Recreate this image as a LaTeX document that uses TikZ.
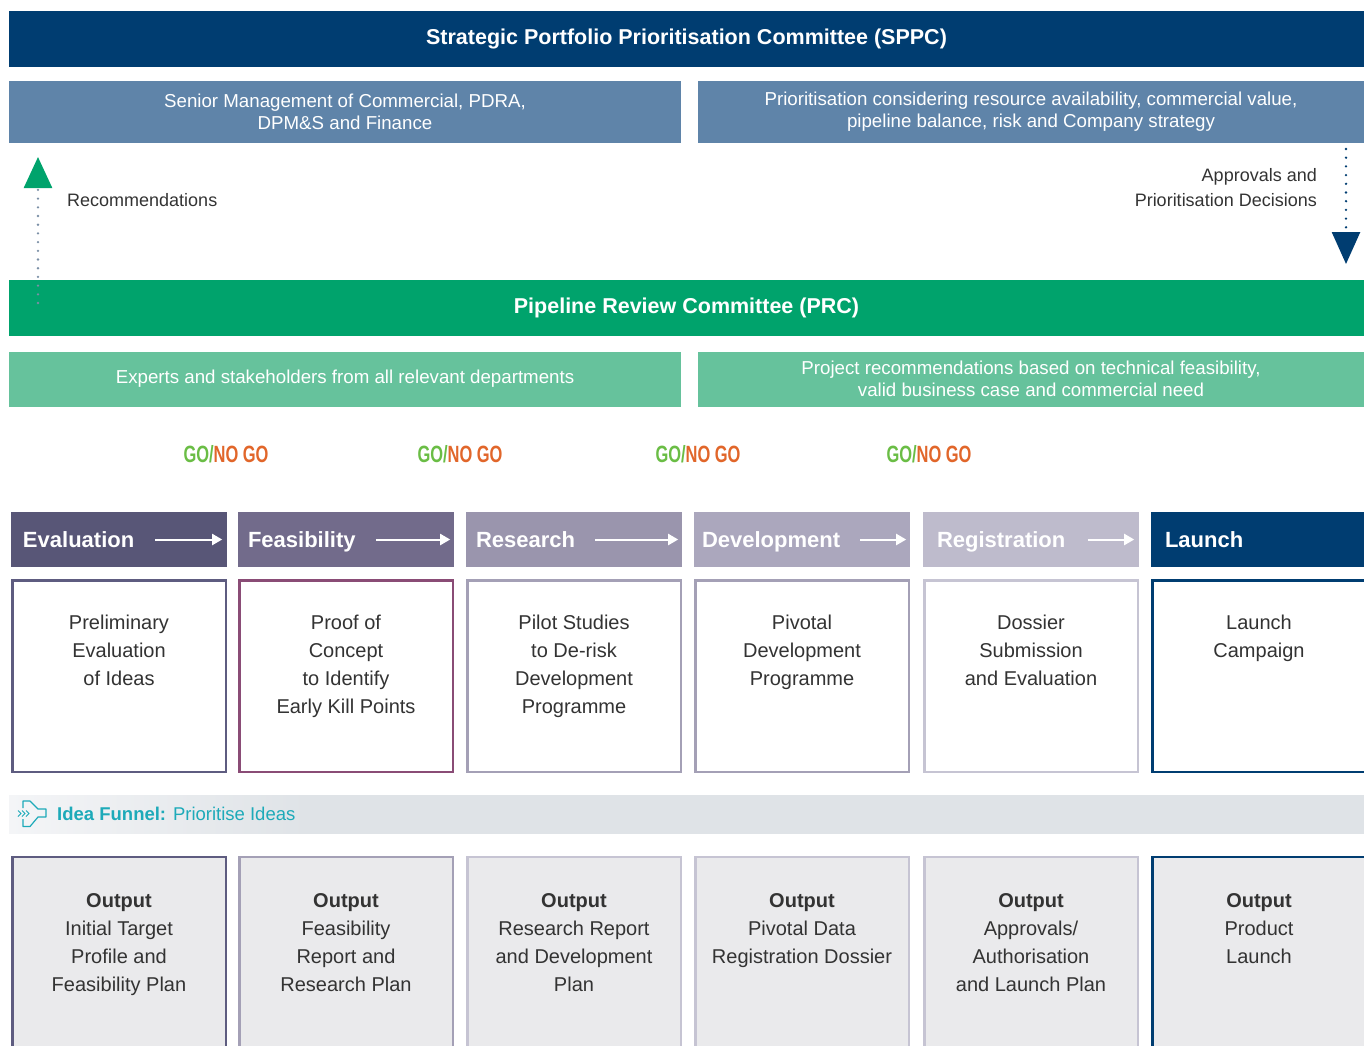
\documentclass[tikz,border=0pt]{standalone}
\usepackage{fontspec}
\setmainfont{Liberation Sans}
\usetikzlibrary{arrows.meta}
\usetikzlibrary{calc}
\definecolor{SppcBlue}{HTML}{003D71}
\definecolor{SteelBlue}{HTML}{5F84A9}
\definecolor{PrcGreen}{HTML}{00A36C}
\definecolor{MintGreen}{HTML}{66C29C}
\definecolor{GoGreen}{HTML}{6ABD45}
\definecolor{NoGoOrange}{HTML}{E1662A}
\definecolor{EvalCol}{HTML}{585677}
\definecolor{FeasCol}{HTML}{726B8B}
\definecolor{ResCol}{HTML}{9A95AD}
\definecolor{DevCol}{HTML}{ABA7BD}
\definecolor{RegCol}{HTML}{BEBBCC}
\definecolor{EvalEdge}{HTML}{5E5C80}
\definecolor{FeasEdge}{HTML}{8A4C76}
\definecolor{ResEdge}{HTML}{A4A0B6}
\definecolor{RegEdge}{HTML}{C6C4D3}
\definecolor{OutFill}{HTML}{EAEAEC}
\definecolor{FunnelBand}{HTML}{DFE3E7}
\definecolor{FunnelLight}{HTML}{F4F5F7}
\definecolor{FunnelTeal}{HTML}{1DAAB9}
\definecolor{TextGrey}{HTML}{333333}
\definecolor{DotGrey}{HTML}{7B8FA6}
\pgfdeclarehorizontalshading{FunnelShade}{100bp}{color(0bp)=(FunnelLight); color(25bp)=(FunnelLight); color(36bp)=(FunnelBand); color(100bp)=(FunnelBand)}
\tikzstyle{Bar}=[rectangle, inner sep=0pt, minimum width=1355pt, minimum height=56pt, text=white, font=\fontsize{21.5}{24}\selectfont\bfseries]
\tikzstyle{SppcBar}=[Bar, fill=SppcBlue]
\tikzstyle{PrcBar}=[Bar, fill=PrcGreen]
\tikzstyle{Note}=[rectangle, inner sep=0pt, minimum height=62pt, text=white, align=center, font=\fontsize{18.7}{22}\selectfont]
\tikzstyle{SppcNote}=[Note, fill=SteelBlue]
\tikzstyle{PrcNote}=[Note, fill=MintGreen, minimum height=55pt]
\tikzstyle{SideText}=[inner sep=0pt, text=TextGrey, font=\fontsize{18}{25}\selectfont]
\tikzstyle{DotLine}=[line width=2.6pt, line cap=round, dash pattern=on 0pt off 8.7pt]
\tikzstyle{GoText}=[inner sep=0pt, font=\fontsize{23.5}{26}\selectfont\bfseries]
\tikzstyle{StageHead}=[rectangle, inner sep=0pt, minimum width=216pt, minimum height=55pt]
\tikzstyle{HeadText}=[anchor=base west, inner sep=0pt, text=white, font=\fontsize{22}{26}\selectfont\bfseries]
\tikzstyle{HeadArrow}=[-{Triangle[length=10pt,width=11pt]}, white, line width=2pt]
\tikzstyle{TaskNode}=[rectangle, draw, line width=2.5pt, minimum width=213.5pt, minimum height=191.5pt, fill=white]
\tikzstyle{OutputNode}=[TaskNode, fill=OutFill, minimum height=220pt]
\tikzstyle{TaskText}=[anchor=north, inner sep=0pt, align=center, text=TextGrey, font=\fontsize{20}{28}\selectfont]
\tikzstyle{FunnelBar}=[rectangle, inner sep=0pt, shading=FunnelShade, minimum width=1355pt, minimum height=38pt]

\begin{document}
\begin{tikzpicture}[x=1pt, y=-1pt]
\useasboundingbox (0,0) rectangle (1364,1045);
\clip (0,0) rectangle (1364,1045);

% committees
\node[SppcBar](SPPC) at (686.5,39) {Strategic Portfolio Prioritisation Committee (SPPC)};
\node[SppcNote, minimum width=672pt](SppcLeft) at (345,112) {Senior Management of Commercial, PDRA,\\DPM\&S and Finance};
\node[SppcNote, minimum width=666pt](SppcRight) at (1031,112) {Prioritisation considering resource availability, commercial value,\\pipeline balance, risk and Company strategy};
\node[PrcBar](PRC) at (686.5,308) {Pipeline Review Committee (PRC)};
\node[PrcNote, minimum width=672pt](PrcLeft) at (345,379) {Experts and stakeholders from all relevant departments};
\node[PrcNote, minimum width=666pt](PrcRight) at (1031,379) {Project recommendations based on technical feasibility,\\valid business case and commercial need};

% feedback arrows
\coordinate (RecStart) at (38,303);
\coordinate (RecEnd) at (38,157);
\draw[DotLine, DotGrey, -{Triangle[length=31pt,width=28pt,color=PrcGreen]}](RecStart) -- (RecEnd);
\node[SideText, anchor=west](Rec) at (67,200) {Recommendations};
\coordinate (ApprStart) at (1346,149);
\coordinate (ApprEnd) at (1346,264);
\draw[DotLine, SppcBlue, -{Triangle[length=32pt,width=28pt]}](ApprStart) -- (ApprEnd);
\node[SideText, anchor=east, align=right](Appr) at (1317,187.5) {Approvals and\\Prioritisation Decisions};

% gates
\node[GoText](Gate1) at (226,454) {\scalebox{0.7}[1]{\textcolor{GoGreen}{GO/}\textcolor{NoGoOrange}{NO GO}}};
\node[GoText](Gate2) at (460,454) {\scalebox{0.7}[1]{\textcolor{GoGreen}{GO/}\textcolor{NoGoOrange}{NO GO}}};
\node[GoText](Gate3) at (698,454) {\scalebox{0.7}[1]{\textcolor{GoGreen}{GO/}\textcolor{NoGoOrange}{NO GO}}};
\node[GoText](Gate4) at (929,454) {\scalebox{0.7}[1]{\textcolor{GoGreen}{GO/}\textcolor{NoGoOrange}{NO GO}}};

% stage headers
\node[StageHead, fill=EvalCol](EvalHead) at (119,539.5) {};
\node[StageHead, fill=FeasCol](FeasHead) at (346,539.5) {};
\node[StageHead, fill=ResCol](ResHead) at (574,539.5) {};
\node[StageHead, fill=DevCol](DevHead) at (802,539.5) {};
\node[StageHead, fill=RegCol](RegHead) at (1031,539.5) {};
\node[StageHead, fill=SppcBlue](LaunchHead) at (1259,539.5) {};
\node[HeadText](EvalLabel) at ([xshift=12pt, yshift=-8pt]EvalHead.west) {Evaluation};
\node[HeadText](FeasLabel) at ([xshift=10pt, yshift=-8pt]FeasHead.west) {Feasibility};
\node[HeadText](ResLabel) at ([xshift=10pt, yshift=-8pt]ResHead.west) {Research};
\node[HeadText](DevLabel) at ([xshift=8pt, yshift=-8pt]DevHead.west) {Development};
\node[HeadText](RegLabel) at ([xshift=14pt, yshift=-8pt]RegHead.west) {Registration};
\node[HeadText](LaunchLabel) at ([xshift=14pt, yshift=-8pt]LaunchHead.west) {Launch};
\draw[HeadArrow]($(EvalLabel.east |- EvalHead.center)+(21,0)$) -- ($(EvalHead.east)+(-5,0)$);
\draw[HeadArrow]($(FeasLabel.east |- FeasHead.center)+(20,0)$) -- ($(FeasHead.east)+(-4,0)$);
\draw[HeadArrow]($(ResLabel.east |- ResHead.center)+(20,0)$) -- ($(ResHead.east)+(-4,0)$);
\draw[HeadArrow]($(DevLabel.east |- DevHead.center)+(20,0)$) -- ($(DevHead.east)+(-4,0)$);
\draw[HeadArrow]($(RegLabel.east |- RegHead.center)+(22,0)$) -- ($(RegHead.east)+(-5,0)$);

% stage tasks
\node[TaskNode, draw=EvalEdge](EvalTask) at (119,676) {};
\node[TaskNode, draw=FeasEdge](FeasTask) at (346,676) {};
\node[TaskNode, draw=ResEdge](ResTask) at (574,676) {};
\node[TaskNode, draw=ResEdge](DevTask) at (802,676) {};
\node[TaskNode, draw=RegEdge](RegTask) at (1031,676) {};
\node[TaskNode, draw=SppcBlue](LaunchTask) at (1259,676) {};
\node[TaskText](EvalTaskText) at (119,615) {Preliminary\\Evaluation\\of Ideas};
\node[TaskText](FeasTaskText) at (346,615) {Proof of\\Concept\\to Identify\\Early Kill Points};
\node[TaskText](ResTaskText) at (574,615) {Pilot Studies\\to De-risk\\Development\\Programme};
\node[TaskText](DevTaskText) at (802,615) {Pivotal\\Development\\Programme};
\node[TaskText](RegTaskText) at (1031,615) {Dossier\\Submission\\and Evaluation};
\node[TaskText](LaunchTaskText) at (1259,615) {Launch\\Campaign};

% idea funnel
\node[FunnelBar](Funnel) at (686.5,814) {};
\draw[FunnelTeal, line width=1.2pt, line join=round] (23,808) -- (23,801) -- (30,801) -- (38,809) -- (46,809) -- (46,817) -- (38,817) -- (30,826.5) -- (23,826.5) -- (23,819);
\foreach \cx in {18,22,26}
  \draw[FunnelTeal, line width=1pt] (\cx,810.5) -- (\cx+3,813.5) -- (\cx,816.5);
\node[anchor=west, inner sep=0pt, text=FunnelTeal, font=\fontsize{18.5}{22}\selectfont](FunnelText) at (57,814) {\textbf{Idea Funnel:} Prioritise Ideas};

% outputs
\node[OutputNode, draw=EvalEdge](EvalOut) at (119,967) {};
\node[OutputNode, draw=ResEdge](FeasOut) at (346,967) {};
\node[OutputNode, draw=RegEdge](ResOut) at (574,967) {};
\node[OutputNode, draw=RegEdge](DevOut) at (802,967) {};
\node[OutputNode, draw=RegEdge](RegOut) at (1031,967) {};
\node[OutputNode, draw=SppcBlue](LaunchOut) at (1259,967) {};
\node[TaskText](EvalOutText) at (119,893) {\textbf{Output}\\Initial Target\\Profile and\\Feasibility Plan};
\node[TaskText](FeasOutText) at (346,893) {\textbf{Output}\\Feasibility\\Report and\\Research Plan};
\node[TaskText](ResOutText) at (574,893) {\textbf{Output}\\Research Report\\and Development\\Plan};
\node[TaskText](DevOutText) at (802,893) {\textbf{Output}\\Pivotal Data\\Registration Dossier};
\node[TaskText](RegOutText) at (1031,893) {\textbf{Output}\\Approvals/\\Authorisation\\and Launch Plan};
\node[TaskText](LaunchOutText) at (1259,893) {\textbf{Output}\\Product\\Launch};
\end{tikzpicture}
\end{document}
